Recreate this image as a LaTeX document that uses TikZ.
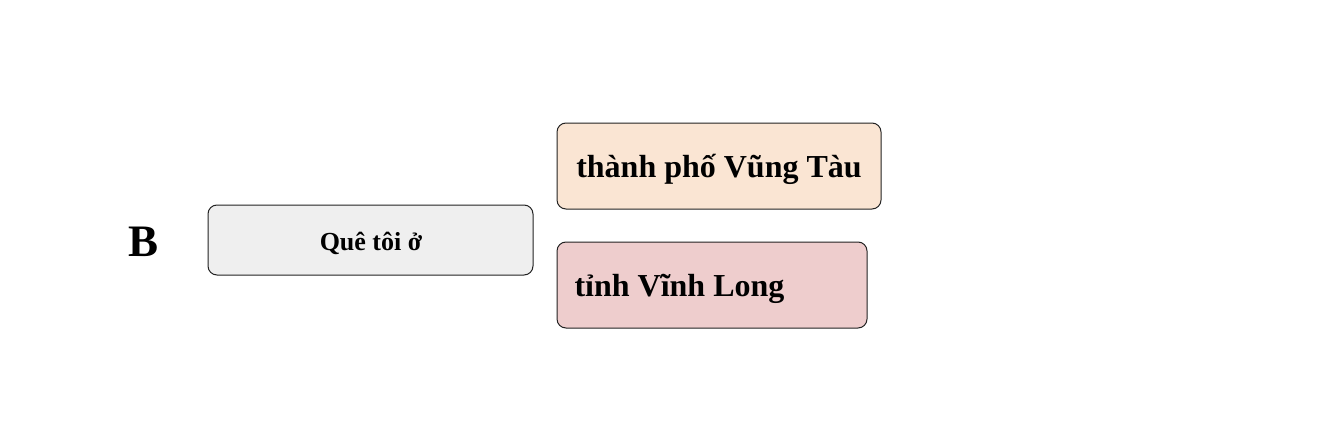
\documentclass[tikz,border=0pt]{standalone}
\usepackage{fontspec}
\setmainfont{Liberation Serif}
\definecolor{graybox}{HTML}{EFEFEF}
\definecolor{peachbox}{HTML}{FAE5D3}
\definecolor{pinkbox}{HTML}{EECDCD}
\definecolor{edge}{HTML}{222222}
\begin{document}
\begin{tikzpicture}[x=1pt,y=-1pt,
  card/.style={draw=edge, line width=1pt, rounded corners=9pt, inner sep=0pt, font=\bfseries}]
\useasboundingbox (0,0) rectangle (1324,444);
\node[font=\fontsize{45}{50}\selectfont\bfseries] (lab) at (144,242) {B};
\draw[card, fill=graybox] (208,205) rectangle (533,275);
\node[font=\fontsize{26}{30}\selectfont\bfseries] (q) at (371,243) {Quê tôi ở};
\draw[card, fill=peachbox] (557,123) rectangle (881,209);
\node[font=\fontsize{32}{36}\selectfont\bfseries] (a1) at (719,169) {thành phố Vũng Tàu};
\draw[card, fill=pinkbox] (557,242) rectangle (867,328);
\node[font=\fontsize{32}{36}\selectfont\bfseries, anchor=west] (a2) at (571,289) {tỉnh Vĩnh Long};
\end{tikzpicture}
\end{document}
